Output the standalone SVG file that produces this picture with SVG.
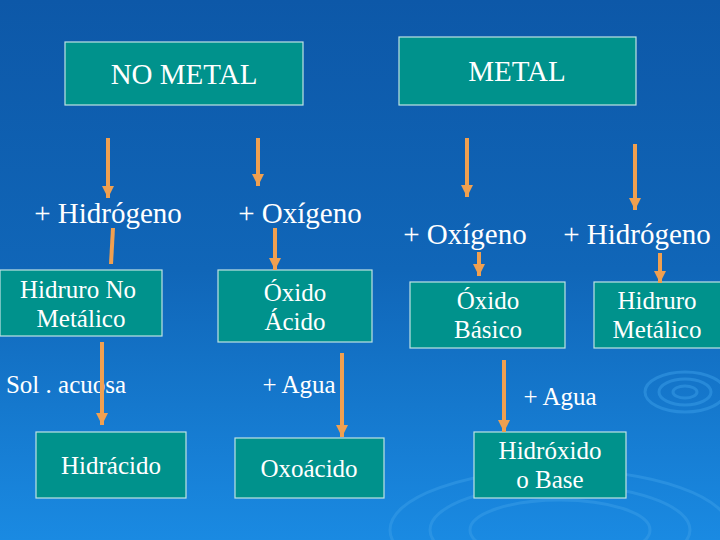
<svg xmlns="http://www.w3.org/2000/svg" width="720" height="540" viewBox="0 0 720 540">
<defs>
<linearGradient id="bg" x1="0" y1="0" x2="0" y2="1">
<stop offset="0" stop-color="#0d58a8"/><stop offset="0.5" stop-color="#1066b8"/><stop offset="1" stop-color="#1a8ae2"/>
</linearGradient>
<marker id="a" viewBox="0 0 10 10" refX="10" refY="5" markerWidth="3" markerHeight="3" orient="auto">
<path d="M0,0 L10,5 L0,10 Z" fill="#f0a050"/>
</marker>
</defs>
<style>
text{font-family:"Liberation Serif","DejaVu Serif",serif}
.b{fill:#00928c;stroke:#bfe3e3;stroke-width:1.2}
.t{fill:#fff;font-size:25px;text-anchor:middle}
.l{font-size:29px}
.c line{stroke:#f0a050;stroke-width:4}
</style>
<rect width="720" height="540" fill="url(#bg)"/>
<g fill="none" stroke="#3a9ee8" stroke-width="3" opacity="0.5">
<ellipse cx="560" cy="530" rx="170" ry="60"/><ellipse cx="560" cy="530" rx="130" ry="45"/><ellipse cx="560" cy="530" rx="90" ry="30"/>
<ellipse cx="685" cy="392" rx="40" ry="20"/><ellipse cx="685" cy="392" rx="26" ry="13"/><ellipse cx="685" cy="392" rx="12" ry="6"/>
</g>
<g id="nometal"><rect class="b" x="65" y="42" width="238" height="63"/><text class="t l" x="184" y="84">NO METAL</text></g>
<g id="metal"><rect class="b" x="399" y="37" width="237" height="68"/><text class="t l" x="517" y="81">METAL</text></g>
<g id="l1"><text class="t l" x="108" y="223">+ Hidrógeno</text></g>
<g id="l2"><text class="t l" x="300" y="223">+ Oxígeno</text></g>
<g id="l3"><text class="t l" x="465" y="244">+ Oxígeno</text></g>
<g id="l4"><text class="t l" x="637" y="244">+ Hidrógeno</text></g>
<g id="hnm"><rect class="b" x="0" y="270" width="162" height="66"/><text class="t" x="78" y="298">Hidruro No</text><text class="t" x="81" y="327">Metálico</text></g>
<g id="oa"><rect class="b" x="218" y="270" width="154" height="72"/><text class="t" x="295" y="301">Óxido</text><text class="t" x="295" y="330">Ácido</text></g>
<g id="ob"><rect class="b" x="410" y="282" width="155" height="66"/><text class="t" x="488" y="309">Óxido</text><text class="t" x="488" y="338">Básico</text></g>
<g id="hm"><rect class="b" x="594" y="282" width="130" height="66"/><text class="t" x="657" y="309">Hidruro</text><text class="t" x="657" y="338">Metálico</text></g>
<g id="l5"><text class="t" x="66" y="393">Sol . acuosa</text></g>
<g id="l6"><text class="t" x="299" y="393">+  Agua</text></g>
<g id="l7"><text class="t" x="560" y="405">+ Agua</text></g>
<g id="hid"><rect class="b" x="36" y="432" width="150" height="66"/><text class="t" x="111" y="474">Hidrácido</text></g>
<g id="oxo"><rect class="b" x="235" y="438" width="149" height="60"/><text class="t" x="309" y="477">Oxoácido</text></g>
<g id="base"><rect class="b" x="474" y="432" width="152" height="66"/><text class="t" x="550" y="459">Hidróxido</text><text class="t" x="550" y="488">o Base</text></g>
<g class="c" id="connectors">
<line x1="108" y1="138" x2="108" y2="198" marker-end="url(#a)"/>
<line x1="113" y1="228" x2="111" y2="264"/>
<line x1="258" y1="138" x2="258" y2="186" marker-end="url(#a)"/>
<line x1="275" y1="228" x2="275" y2="270" marker-end="url(#a)"/>
<line x1="102" y1="342" x2="102" y2="425" marker-end="url(#a)"/>
<line x1="342" y1="353" x2="342" y2="437" marker-end="url(#a)"/>
<line x1="467" y1="138" x2="467" y2="197" marker-end="url(#a)"/>
<line x1="479" y1="252" x2="479" y2="276" marker-end="url(#a)"/>
<line x1="635" y1="144" x2="635" y2="210" marker-end="url(#a)"/>
<line x1="660" y1="253" x2="660" y2="283" marker-end="url(#a)"/>
<line x1="504" y1="360" x2="504" y2="432" marker-end="url(#a)"/>
</g>
</svg>
